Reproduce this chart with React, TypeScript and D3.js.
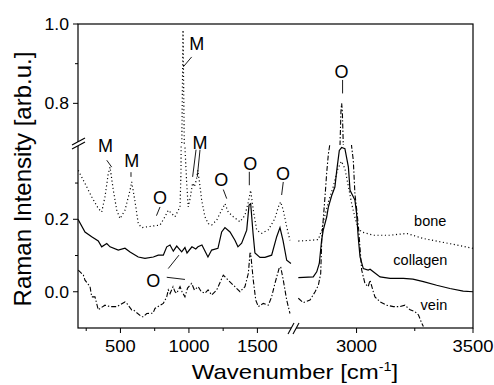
import React from 'react';
import * as d3 from 'd3';

type P = [number, number];

// ---------- data (wavenumber cm^-1, intensity arb.u.) ----------
const boneLow: P[] = [
  [192, 0.335], [241, 0.299], [290, 0.262], [338, 0.23], [363, 0.22], [387, 0.262], [411, 0.326],
  [424, 0.344], [448, 0.28], [473, 0.225], [497, 0.202], [533, 0.225], [570, 0.28], [582, 0.303],
  [606, 0.25], [630, 0.188], [655, 0.177], [728, 0.181], [789, 0.184], [825, 0.207], [849, 0.225],
  [898, 0.207], [935, 0.234], [942, 0.33], [948, 0.7], [957, 0.985], [966, 0.7], [972, 0.39],
  [984, 0.298], [995, 0.234], [1010, 0.26], [1027, 0.3], [1040, 0.29], [1055, 0.31], [1065, 0.335],
  [1078, 0.3], [1093, 0.253], [1117, 0.207], [1141, 0.188], [1166, 0.184], [1203, 0.198],
  [1239, 0.225], [1263, 0.243], [1287, 0.22], [1324, 0.207], [1373, 0.193], [1409, 0.211],
  [1434, 0.248], [1451, 0.28], [1470, 0.225], [1495, 0.17], [1531, 0.161], [1580, 0.171],
  [1628, 0.202], [1653, 0.234], [1670, 0.248], [1689, 0.225], [1714, 0.179], [1738, 0.142],
];
const boneHigh: P[] = [
  [2750, 0.14], [2800, 0.142], [2836, 0.144], [2850, 0.17], [2860, 0.2], [2880, 0.25], [2900, 0.29],
  [2920, 0.34], [2935, 0.36], [2950, 0.34], [2965, 0.29], [2980, 0.24], [2995, 0.2], [3008, 0.175],
  [3022, 0.165], [3072, 0.156], [3144, 0.156], [3215, 0.161], [3287, 0.147], [3358, 0.138],
  [3430, 0.129], [3500, 0.12],
];
const collagenLow: P[] = [
  [190, 0.2], [241, 0.165], [290, 0.152], [338, 0.14], [363, 0.124], [400, 0.133], [424, 0.124],
  [484, 0.115], [533, 0.12], [570, 0.11], [630, 0.096], [679, 0.092], [740, 0.096], [776, 0.101],
  [813, 0.101], [838, 0.124], [862, 0.129], [886, 0.112], [911, 0.126], [947, 0.11], [971, 0.122],
  [986, 0.107], [1022, 0.124], [1050, 0.118], [1066, 0.124], [1095, 0.129], [1139, 0.096],
  [1166, 0.115], [1212, 0.12], [1239, 0.165], [1263, 0.177], [1300, 0.165], [1336, 0.142],
  [1358, 0.124], [1385, 0.134], [1422, 0.17], [1439, 0.239], [1451, 0.243], [1468, 0.162],
  [1482, 0.107], [1519, 0.095], [1555, 0.095], [1604, 0.101], [1641, 0.152], [1665, 0.177],
  [1687, 0.142], [1714, 0.087], [1745, 0.078],
];
const collagenHigh: P[] = [
  [2750, 0.039], [2814, 0.041], [2829, 0.055], [2840, 0.078], [2850, 0.142], [2857, 0.17],
  [2872, 0.207], [2879, 0.234], [2893, 0.265], [2907, 0.289], [2915, 0.335], [2926, 0.39],
  [2936, 0.398], [2950, 0.395], [2965, 0.344], [2972, 0.28], [2993, 0.253], [3000, 0.217],
  [3007, 0.152], [3015, 0.096], [3029, 0.064], [3050, 0.06], [3058, 0.062], [3072, 0.055],
  [3101, 0.041], [3144, 0.037], [3201, 0.037], [3242, 0.035], [3287, 0.028], [3344, 0.018],
  [3401, 0.009], [3458, 0.002], [3500, 0.0],
];
const veinLow: P[] = [
  [192, 0.06], [229, 0.046], [241, 0.032], [278, 0.014], [290, -0.014], [314, -0.014], [338, -0.05],
  [351, -0.046], [387, -0.037], [424, -0.041], [473, -0.041], [533, -0.028], [546, -0.032],
  [582, -0.05], [594, -0.05], [655, -0.069], [667, -0.069], [692, -0.06], [738, -0.059],
  [752, -0.046], [813, -0.032], [838, -0.014], [849, 0.005], [862, -0.005], [884, 0.014],
  [898, 0.0], [911, -0.004], [935, 0.014], [950, 0.0], [971, -0.014], [990, 0.01], [1020, 0.023],
  [1040, 0.005], [1068, 0.014], [1090, 0.0], [1117, -0.004], [1140, 0.005], [1166, -0.009],
  [1203, 0.005], [1251, 0.046], [1287, 0.032], [1336, 0.014], [1373, 0.0], [1409, 0.014],
  [1434, 0.051], [1446, 0.106], [1451, 0.106], [1470, 0.032], [1488, -0.023], [1507, -0.041],
  [1543, -0.032], [1580, -0.037], [1604, -0.014], [1628, 0.023], [1658, 0.064], [1670, 0.069],
  [1689, 0.032], [1714, -0.023], [1738, -0.06],
];
const veinHigh: P[] = [
  [2750, -0.018], [2771, -0.03], [2800, -0.023], [2822, 0.0], [2836, 0.018], [2846, 0.05],
  [2851, 0.15], [2857, 0.2], [2865, 0.266], [2872, 0.33], [2879, 0.38], [2886, 0.41],
  [2929, 0.695], [2933, 0.78], [2936, 0.8], [2939, 0.78], [2943, 0.695], [2979, 0.4],
  [2986, 0.363], [2993, 0.27], [3001, 0.225], [3008, 0.18], [3022, 0.06], [3036, 0.023],
  [3050, 0.014], [3058, 0.032], [3072, 0.0], [3079, -0.014], [3101, -0.028], [3129, -0.037],
  [3158, -0.041], [3187, -0.041], [3208, -0.037], [3230, -0.05], [3251, -0.055], [3266, -0.064],
  [3280, -0.087], [3287, -0.096],
];

const seriesNames = ['bone', 'collagen', 'vein'];
const seriesLabelAt: P[] = [[3247, 0.181], [3158, 0.0736], [3275, -0.05]];

const xMajorLow = [500, 1000, 1500];
const xMinorLow = [250, 750, 1250];
const xMajorHigh = [3000, 3500];
const xMinorHigh = [3250];
const yMajorLow = [0.0, 0.2];
const yMinorLow = [0.1, 0.3];
const yMajorHigh = [0.8, 1.0];
const yMinorHigh = [0.9];

const annText = ['M', 'M', 'M', 'M', 'O', 'O', 'O', 'O', 'O', 'O'];
const annAt: P[] = [
  [391, 0.404], [582, 0.362], [1057, 0.951], [1081, 0.413],
  [789, 0.26], [740, 0.032], [1236, 0.309], [1448, 0.353], [1687, 0.327], [2935, 0.88],
];
const leaders: [P, P][] = [
  [[400, 0.363], [436, 0.344]],
  [[577, 0.33], [577, 0.317]],
  [[1020, 0.917], [959, 0.892]],
  [[1052, 0.392], [1027, 0.317]],
  [[1081, 0.392], [1061, 0.317]],
  [[789, 0.234], [763, 0.21]],
  [[838, 0.04], [971, 0.034]],
  [[849, 0.064], [927, 0.101]],
  [[1251, 0.282], [1276, 0.257]],
  [[1441, 0.331], [1441, 0.294]],
  [[1689, 0.303], [1677, 0.267]],
  [[2940, 0.859], [2940, 0.825]],
];

// ---------- layout ----------
const W = 494, H = 385;
const L = 78, R = 473, T = 24, B = 328;
const XB1 = 293, XB2 = 296, YB = 145;

const xLow = d3.scaleLinear().domain([190, 1760]).range([L, XB1]);
const xHigh = d3.scaleLinear().domain([2740, 3500]).range([XB2, R]);
const yLow = d3.scaleLinear().domain([-0.1, 0.405]).range([B, YB]);
const yHigh = d3.scaleLinear().domain([0.695, 1.0]).range([YB, T]);

const px = (x: number) => (x < 2200 ? xLow(x) : xHigh(x));
const py = (y: number) => (y > 0.55 ? yHigh(y) : yLow(y));

const FONT = 'Liberation Sans, Arial, sans-serif';

export default function App() {
  const styles: Record<string, { dash?: string; w: number }> = {
    bone: { dash: '1.1 2.6', w: 1.2 },
    collagen: { w: 1.2 },
    vein: { dash: '5 2 1.4 2', w: 1.1 },
  };
  const segs: { name: string; data: P[]; high: boolean }[] = [
    { name: 'bone', data: boneLow, high: false },
    { name: 'bone', data: boneHigh, high: true },
    { name: 'collagen', data: collagenLow, high: false },
    { name: 'collagen', data: collagenHigh, high: true },
    { name: 'vein', data: veinLow, high: false },
    { name: 'vein', data: veinHigh, high: true },
  ];

  const paths: React.ReactNode[] = [];
  segs.forEach((s, i) => {
    const xs = s.high ? xHigh : xLow;
    [false, true].forEach((upper) => {
      const ys = upper ? yHigh : yLow;
      const line = d3.line<P>().x((d) => xs(d[0])).y((d) => ys(d[1]));
      const st = styles[s.name];
      paths.push(
        <path
          key={`${i}-${upper}`}
          d={line(s.data) || ''}
          fill="none"
          stroke="#000"
          strokeWidth={st.w}
          strokeDasharray={st.dash}
          clipPath={`url(#c${s.high ? 'H' : 'L'}${upper ? 'H' : 'L'})`}
        />
      );
    });
  });

  const xTick = (x: number, len: number, k: string) => (
    <line key={k} x1={x} x2={x} y1={B} y2={B + len} stroke="#000" strokeWidth={1} />
  );
  const yTick = (y: number, len: number, k: string) => (
    <line key={k} x1={L - len} x2={L} y1={y} y2={y} stroke="#000" strokeWidth={1} />
  );

  return (
    <svg width={W} height={H} style={{ position: 'absolute', left: 0, top: 0, background: '#fff' }}>
      <defs>
        <clipPath id="cLL"><rect x={L} y={YB} width={XB1 - L} height={B - YB} /></clipPath>
        <clipPath id="cLH"><rect x={L} y={T} width={XB1 - L} height={YB - T} /></clipPath>
        <clipPath id="cHL"><rect x={XB2} y={YB} width={R - XB2} height={B - YB} /></clipPath>
        <clipPath id="cHH"><rect x={XB2} y={T} width={R - XB2} height={YB - T} /></clipPath>
      </defs>
      <rect x={0} y={0} width={W} height={H} fill="#fff" />

      {paths}

      {/* frame */}
      <rect x={L} y={T} width={R - L} height={B - T} fill="none" stroke="#000" strokeWidth={1.2} />

      {/* ticks */}
      {xMajorLow.map((v) => xTick(xLow(v), 5, `xl${v}`))}
      {xMinorLow.map((v) => xTick(xLow(v), 3, `xm${v}`))}
      {xMajorHigh.map((v) => xTick(xHigh(v), 5, `xh${v}`))}
      {xMinorHigh.map((v) => xTick(xHigh(v), 3, `xhm${v}`))}
      {yMajorLow.map((v) => yTick(yLow(v), 5, `yl${v}`))}
      {yMinorLow.map((v) => yTick(yLow(v), 3, `ym${v}`))}
      {yMajorHigh.map((v) => yTick(yHigh(v), 5, `yh${v}`))}
      {yMinorHigh.map((v) => yTick(yHigh(v), 3, `yhm${v}`))}

      {/* tick labels */}
      <g fontFamily={FONT} fontSize={16} fill="#000">
        {xMajorLow.map((v) => (
          <text key={`txl${v}`} transform={`translate(${xLow(v)},${B + 24}) scale(1.15,1)`} textAnchor="middle">{v}</text>
        ))}
        {xMajorHigh.map((v) => (
          <text key={`txh${v}`} transform={`translate(${xHigh(v)},${B + 24}) scale(1.15,1)`} textAnchor="middle">{v}</text>
        ))}
        {yMajorLow.map((v) => (
          <text key={`tyl${v}`} transform={`translate(${L - 9},${yLow(v) + 6}) scale(1.1,1)`} textAnchor="end">{d3.format('.1f')(v)}</text>
        ))}
        {yMajorHigh.map((v) => (
          <text key={`tyh${v}`} transform={`translate(${L - 9},${yHigh(v) + 6}) scale(1.1,1)`} textAnchor="end">{d3.format('.1f')(v)}</text>
        ))}
      </g>

      {/* axis breaks */}
      <polygon points={`${L - 6},${YB + 4} ${L + 7},${YB - 3} ${L + 7},${YB - 7} ${L - 6},${YB}`} fill="#fff" />
      <line x1={L - 6} y1={YB + 4} x2={L + 7} y2={YB - 3} stroke="#000" strokeWidth={1.1} />
      <line x1={L - 6} y1={YB} x2={L + 7} y2={YB - 7} stroke="#000" strokeWidth={1.1} />
      <polygon points={`${XB1 - 5},${B + 6} ${XB1 + 1},${B - 5} ${XB1 + 6},${B - 5} ${XB1},${B + 6}`} fill="#fff" />
      <line x1={XB1 - 5} y1={B + 6} x2={XB1 + 1} y2={B - 5} stroke="#000" strokeWidth={1.1} />
      <line x1={XB1} y1={B + 6} x2={XB1 + 6} y2={B - 5} stroke="#000" strokeWidth={1.1} />

      {/* annotations */}
      {leaders.map((l, i) => (
        <line key={`ld${i}`} x1={px(l[0][0])} y1={py(l[0][1])} x2={px(l[1][0])} y2={py(l[1][1])} stroke="#000" strokeWidth={0.9} />
      ))}
      <g fontFamily={FONT} fontSize={18} fill="#000">
        {annText.map((t, i) => (
          <text key={`an${i}`} x={px(annAt[i][0])} y={py(annAt[i][1]) + 6.5} textAnchor="middle">{t}</text>
        ))}
      </g>
      <g fontFamily={FONT} fontSize={14.5} fill="#000">
        {seriesNames.map((n, i) => (
          <text key={n} x={px(seriesLabelAt[i][0])} y={py(seriesLabelAt[i][1])}>{n}</text>
        ))}
      </g>

      {/* axis titles */}
      <text fontFamily={FONT} fontSize={20} transform={`translate(295,379) scale(1.2,1)`} textAnchor="middle">
        Wavenumber [cm<tspan fontSize={12} dy={-8}>-1</tspan><tspan dy={8}>]</tspan>
      </text>
      <text fontFamily={FONT} fontSize={24} transform={`translate(31,179) rotate(-90)`} textAnchor="middle">
        Raman Intensity [arb.u.]
      </text>
    </svg>
  );
}
